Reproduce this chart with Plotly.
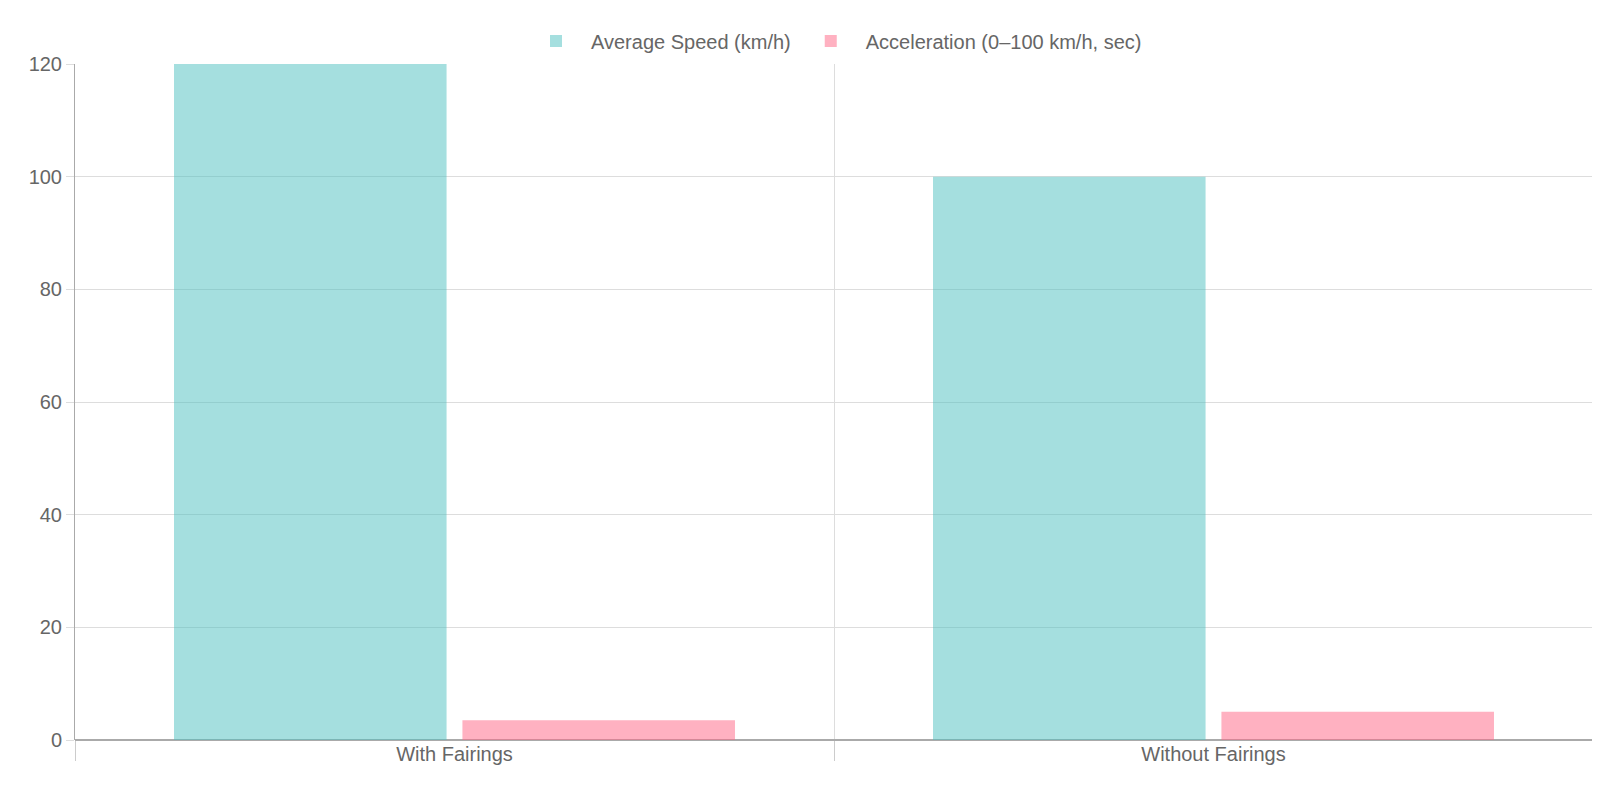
import plotly.graph_objects as go

categories = ["With Fairings", "Without Fairings"]
avg_speed = [120, 100]
acceleration = [3.5, 5]

fig = go.Figure()
fig.add_bar(x=categories, y=avg_speed, name="Average Speed (km/h)",
            marker=dict(color="rgba(75,192,192,0.5)", line=dict(width=0)))
fig.add_bar(x=categories, y=acceleration, name="Acceleration (0–100 km/h, sec)",
            marker=dict(color="rgba(255,99,132,0.5)", line=dict(width=0)))

fig.update_layout(
    width=1600, height=800, barmode="group", bargap=0.24, bargroupgap=0.055,
    plot_bgcolor="white", paper_bgcolor="white",
    margin=dict(l=67, r=15, t=56, b=68),
    font=dict(family="Liberation Sans, Arial", size=20, color="#666"),
    legend=dict(orientation="h", x=0.5, xanchor="center", y=1.005, yanchor="bottom",
                font=dict(size=20, color="#666"), itemwidth=60),
)
fig.update_xaxes(type="category", tickson="boundaries", showgrid=True, gridcolor="#ddd",
                 ticks="outside", ticklen=20, tickcolor="#ccc", showline=False,
                 tickfont=dict(size=20, color="#666"))
fig.update_yaxes(range=[0, 120], dtick=20, showgrid=True, gridcolor="#ddd",
                 showline=True, linecolor="#aaa", ticks="outside", ticklen=8, tickcolor="#ddd",
                 zeroline=True, zerolinecolor="#aaa", zerolinewidth=1.5,
                 tickfont=dict(size=20, color="#666"))
fig.write_html("out.html")
